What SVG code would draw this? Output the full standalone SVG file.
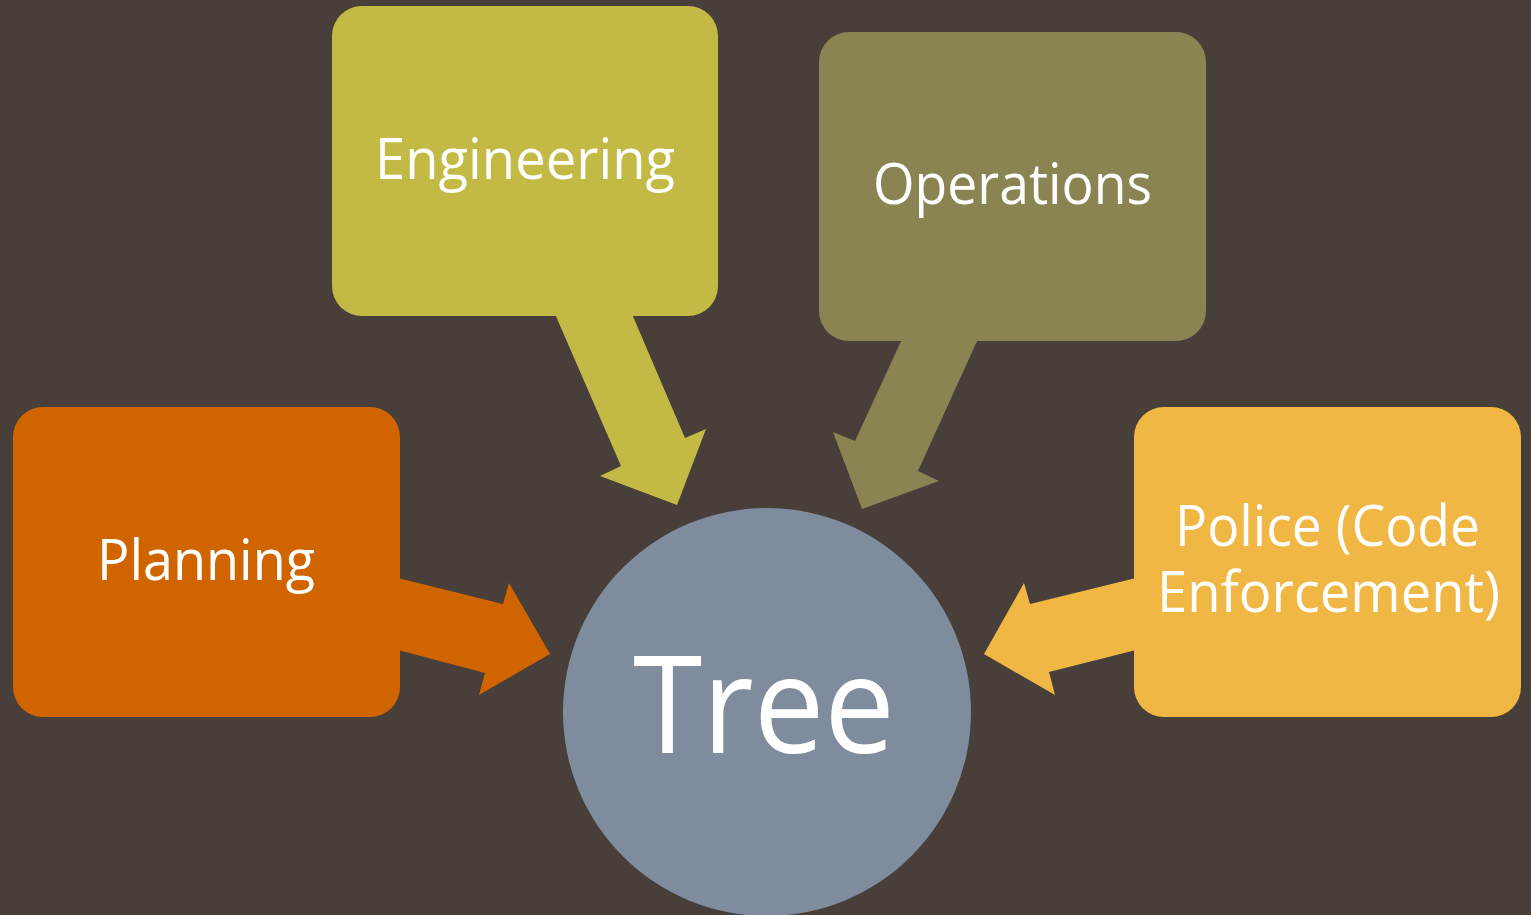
<svg xmlns="http://www.w3.org/2000/svg" width="1531" height="915" viewBox="0 0 1531 915">
<style>
.lbl{font-family:"Open Sans","Liberation Sans",sans-serif;fill:#ffffff;font-size:56px;}
.big{font-size:136px;}
</style>
<rect x="0" y="0" width="1531" height="915" fill="#483E3A"/>
<g id="connectors">
<polygon id="arrow-planning" fill="#D06500" points="398,578 503,604 509,583 550,654 479,695 485,673 398,650"/>
<polygon id="arrow-engineering" fill="#C3BA45" points="555,314 632,314 685,438 706,429 677,505 600,476 621,466"/>
<polygon id="arrow-operations" fill="#8A8452" points="902,339 978,339 918,471 939,481 862,509 833,432 855,441"/>
<polygon id="arrow-police" fill="#F1B744" points="1136,578 1030,604 1024,583 984,654 1055,695 1049,672 1136,650"/>
</g>
<g id="node-tree">
<circle cx="767" cy="712" r="204" fill="#7F8C9E"/>
<text class="lbl big" x="764" y="753" text-anchor="middle" textLength="262" lengthAdjust="spacingAndGlyphs">Tree</text>
</g>
<g id="node-engineering">
<rect x="332" y="6" width="386" height="310" rx="30" fill="#C3BA45"/>
<text class="lbl" x="525" y="179" text-anchor="middle" textLength="300" lengthAdjust="spacingAndGlyphs">Engineering</text>
</g>
<g id="node-operations">
<rect x="819" y="32" width="387" height="309" rx="30" fill="#8A8452"/>
<text class="lbl" x="1012.5" y="204" text-anchor="middle" textLength="279" lengthAdjust="spacingAndGlyphs">Operations</text>
</g>
<g id="node-planning">
<rect x="13" y="407" width="387" height="310" rx="30" fill="#D06500"/>
<text class="lbl" x="206" y="580" text-anchor="middle" textLength="218" lengthAdjust="spacingAndGlyphs">Planning</text>
</g>
<g id="node-police">
<rect x="1134" y="407" width="387" height="310" rx="30" fill="#F1B744"/>
<text class="lbl" x="1327.5" y="546" text-anchor="middle" textLength="305" lengthAdjust="spacingAndGlyphs">Police (Code</text>
<text class="lbl" x="1328.5" y="612" text-anchor="middle" textLength="343" lengthAdjust="spacingAndGlyphs">Enforcement)</text>
</g>
</svg>
